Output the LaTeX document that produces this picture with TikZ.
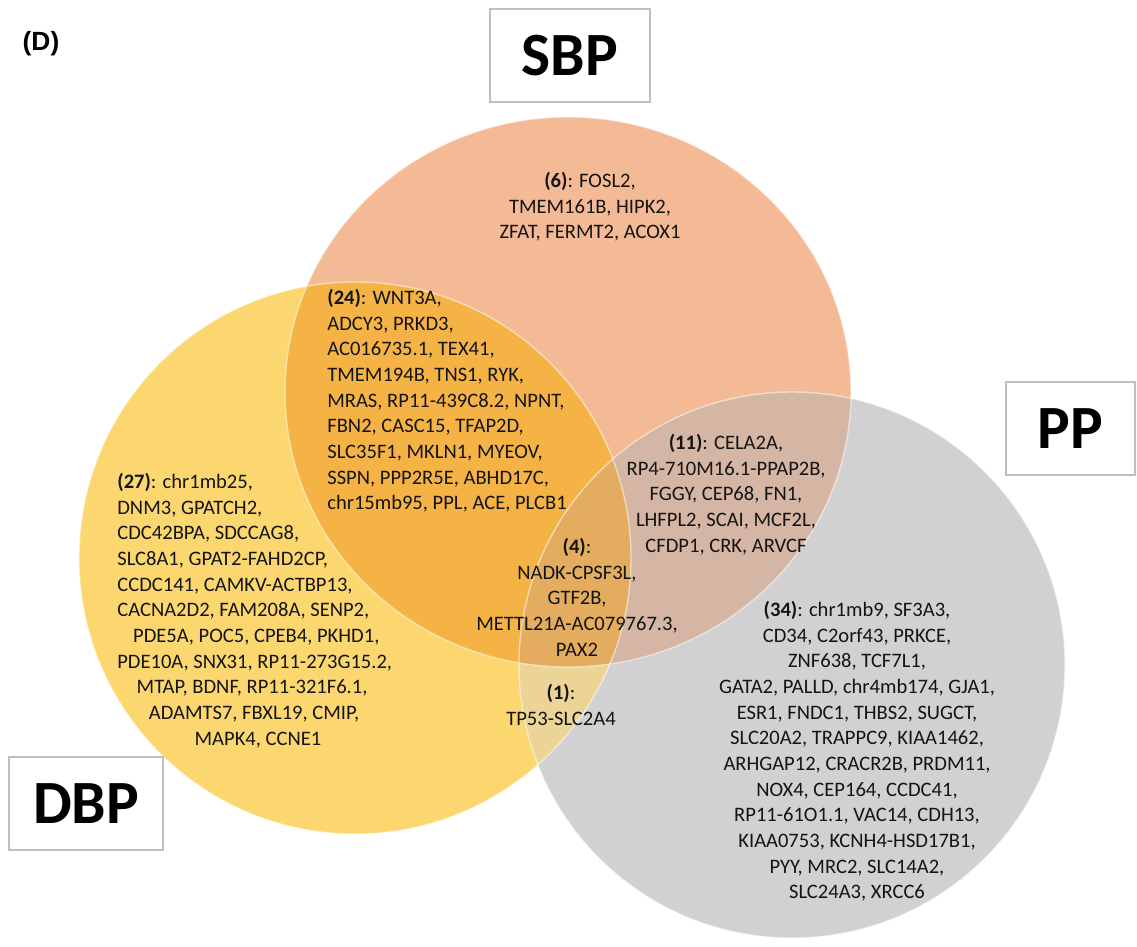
\documentclass[tikz,border=0pt]{standalone}
\usepackage{fontspec}
\setmainfont{Carlito}
\newfontfamily\panelfont{Liberation Sans}
\usetikzlibrary{positioning}

\definecolor{sbpfill}{RGB}{244,186,150}
\definecolor{dbpfill}{RGB}{252,215,112}
\definecolor{ppfill}{RGB}{209,209,209}
\definecolor{sbpdbp}{RGB}{245,179,70}
\definecolor{sbppp}{RGB}{213,181,164}
\definecolor{dbppp}{RGB}{236,212,150}
\definecolor{allthree}{RGB}{228,172,94}

\begin{document}
\begin{tikzpicture}[
    x=0.02cm, y=-0.02cm,
    genes/.style={font=\fontsize{11.7}{14.6}\selectfont, inner sep=0pt, text=black!92},
    setbox/.style={draw=black!25, line width=0.6pt, fill=white, inner sep=0pt,
        minimum height=1.86cm, font=\bfseries\fontsize{35}{35}\selectfont},
    rim/.style={draw=white, draw opacity=0.5, line width=0.8pt}
]
    \useasboundingbox (0,0) rectangle (1137,947);

    % Circles
    \fill[sbpfill] (568,392) ellipse [x radius=283, y radius=275];
    \fill[dbpfill] (355,558) circle [radius=276];
    \fill[ppfill] (792,665) circle [radius=273];

    % Overlaps
    \begin{scope}
        \clip (568,392) ellipse [x radius=283, y radius=275];
        \fill[sbpdbp] (355,558) circle [radius=276];
        \fill[sbppp] (792,665) circle [radius=273];
    \end{scope}
    \begin{scope}
        \clip (355,558) circle [radius=276];
        \fill[dbppp] (792,665) circle [radius=273];
        \clip (568,392) ellipse [x radius=283, y radius=275];
        \fill[allthree] (792,665) circle [radius=273];
    \end{scope}
    \draw[rim] (568,392) ellipse [x radius=283, y radius=275];
    \draw[rim] (355,558) circle [radius=276];
    \draw[rim] (792,665) circle [radius=273];

    % Set names
    \node[setbox, minimum width=3.2cm] (sbp) at (570,55.5) {SBP};
    \node[setbox, minimum width=2.58cm] (pp) at (1070.5,428.5) {PP};
    \node[setbox, minimum width=3.08cm] (dbp) at (86,803.5) {DBP};
    \node[font=\panelfont\bfseries\fontsize{15}{15}\selectfont] (panel) at (41,44) {(D)};

    % Gene lists
    \node[genes, align=center, anchor=north] (sbponly) at (590,172) {%
        \textbf{(6)}: FOSL2,\\ TMEM161B, HIPK2,\\ ZFAT, FERMT2, ACOX1};
    \node[genes, align=left, anchor=north west] (sbpdbplist) at (327,289) {%
        \textbf{(24)}: WNT3A,\\ ADCY3, PRKD3,\\ AC016735.1, TEX41,\\
        TMEM194B, TNS1, RYK,\\ MRAS, RP11-439C8.2, NPNT,\\
        FBN2, CASC15, TFAP2D,\\ SLC35F1, MKLN1, MYEOV,\\
        SSPN, PPP2R5E, ABHD17C,\\ chr15mb95, PPL, ACE, PLCB1};
    \node[genes, align=left, anchor=north west] (dbponly) at (117,473) {%
        \textbf{(27)}: chr1mb25,\\ DNM3, GPATCH2,\\ CDC42BPA, SDCCAG8,\\
        SLC8A1, GPAT2-FAHD2CP,\\ CCDC141, CAMKV-ACTBP13,\\
        CACNA2D2, FAM208A, SENP2,\\ \hspace*{9pt}PDE5A, POC5, CPEB4, PKHD1,\\
        PDE10A, SNX31, RP11-273G15.2,\\ \hspace*{11pt}MTAP, BDNF, RP11-321F6.1,\\
        \hspace*{18pt}ADAMTS7, FBXL19, CMIP,\\ \hspace*{44pt}MAPK4, CCNE1};
    \node[genes, align=center, anchor=north] (sbppplist) at (726,434) {%
        \textbf{(11)}: CELA2A,\\ RP4-710M16.1-PPAP2B,\\ FGGY, CEP68, FN1,\\
        LHFPL2, SCAI, MCF2L,\\ CFDP1, CRK, ARVCF};
    \node[genes, align=center, anchor=north] (center) at (577,538) {%
        \textbf{(4)}:\\ NADK-CPSF3L,\\ GTF2B,\\ METTL21A-AC079767.3,\\ PAX2};
    \node[genes, align=center, anchor=north] (dbppplist) at (561,684) {%
        \textbf{(1)}:\\ TP53-SLC2A4};
    \node[genes, align=center, anchor=north] (pponly) at (857,601) {%
        \textbf{(34)}: chr1mb9, SF3A3,\\ CD34, C2orf43, PRKCE,\\ ZNF638, TCF7L1,\\
        GATA2, PALLD, chr4mb174, GJA1,\\ ESR1, FNDC1, THBS2, SUGCT,\\
        SLC20A2, TRAPPC9, KIAA1462,\\ ARHGAP12, CRACR2B, PRDM11,\\
        NOX4, CEP164, CCDC41,\\ RP11-61O1.1, VAC14, CDH13,\\
        KIAA0753, KCNH4-HSD17B1,\\ PYY, MRC2, SLC14A2,\\ SLC24A3, XRCC6};
\end{tikzpicture}
\end{document}
